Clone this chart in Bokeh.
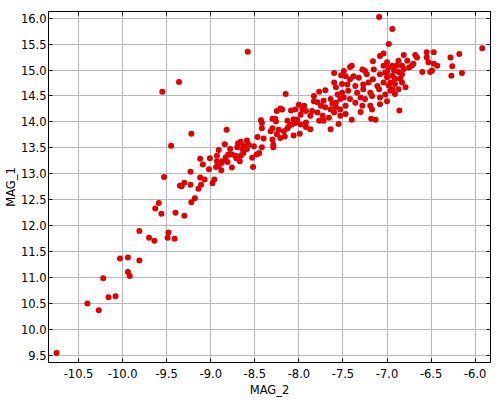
from bokeh.plotting import figure
from bokeh.models import LinearAxis, SingleIntervalTicker, NumeralTickFormatter, Range1d
from bokeh.embed import file_html
from bokeh.resources import INLINE

# MAG_2 (x) and MAG_1 (y) values
mag2_low = [-10.75, -10.40, -10.27, -10.16, -10.08, -10.22, -9.94, -9.92, -10.03, -9.94,
            -9.81, -9.81, -9.70, -9.64, -9.48, -9.49, -9.41]
mag1_low = [9.55, 10.50, 10.37, 10.62, 10.64, 10.99, 11.11, 11.03, 11.37, 11.39,
            11.33, 11.90, 11.77, 11.71, 11.87, 11.77, 11.75]

mag2_out = [-8.58, -9.55, -9.36, -7.09]
mag1_out = [15.35, 14.58, 14.77, 16.02]

mag2_a = [-9.22, -8.82, -9.45, -9.53, -8.59, -8.63, -8.66, -8.69, -8.70, -8.64, -8.59, -8.57,
          -8.66, -8.72, -8.71, -8.78, -8.76, -8.80, -8.83, -8.84, -8.91, -8.87, -8.81, -8.76,
          -8.93, -8.93, -8.91, -8.94, -8.88, -8.88, -9.01, -9.12, -9.09, -9.02, -9.23, -9.12,
          -9.07, -8.96, -8.98, -9.23, -9.30, -9.33, -9.35, -9.11, -9.14, -9.18, -9.22, -9.59,
          -9.63, -9.56, -9.40, -9.30, -8.63, -8.67]
mag1_a = [13.77, 13.85, 13.54, 12.94, 13.64, 13.54, 13.62, 13.59, 13.51, 13.48, 13.48, 13.56,
          13.35, 13.35, 13.30, 13.48, 13.37, 13.37, 13.32, 13.57, 13.46, 13.24, 13.23, 13.12,
          13.35, 13.24, 13.16, 13.13, 13.07, 13.21, 13.30, 13.29, 13.18, 13.09, 13.04, 12.93,
          12.89, 12.89, 12.82, 12.79, 12.83, 12.76, 12.77, 12.79, 12.71, 12.53, 12.45, 12.44,
          12.33, 12.23, 12.25, 12.19, 13.40, 13.24]

mag2_b = [-8.21, -8.27, -8.26, -8.09, -8.04, -8.00, -7.96, -7.98, -8.02, -8.08, -8.13, -8.17,
          -8.23, -8.30, -8.32, -8.25, -8.21, -8.16, -8.11, -8.04, -7.98, -7.99, -8.42, -8.42,
          -8.47, -8.40, -8.30, -8.29, -8.29, -8.42, -8.45, -8.48, -8.51, -8.53, -8.52, -8.15,
          -8.43, -8.30, -8.25, -8.19, -8.06, -8.13, -8.06]
mag1_b = [14.26, 14.06, 14.01, 14.22, 14.24, 14.33, 14.24, 14.14, 14.04, 13.95, 13.88, 13.82,
          13.85, 13.88, 13.82, 13.76, 13.69, 13.72, 13.92, 13.98, 13.95, 13.77, 13.98, 13.88,
          13.71, 13.68, 13.66, 13.56, 13.51, 13.51, 13.40, 13.37, 13.53, 13.31, 13.13, 14.54,
          14.03, 14.06, 14.21, 14.24, 14.05, 14.02, 13.74]

mag2_c = [-7.60, -7.52, -7.94, -7.92, -7.92, -7.87, -7.85, -7.83, -7.83, -7.77, -7.70, -7.60,
          -7.56, -7.51, -7.64, -7.58, -7.53, -7.75, -7.70, -7.64, -7.58, -7.53, -7.79, -7.73,
          -7.66, -7.60, -7.53, -7.77, -7.72, -7.87, -7.64, -7.55, -7.51, -7.58, -7.92, -7.79,
          -7.72, -7.62]
mag1_c = [14.94, 14.90, 14.31, 14.21, 13.99, 14.12, 14.21, 14.40, 14.50, 14.58, 14.61, 14.76,
          14.53, 14.56, 14.44, 14.37, 14.44, 14.31, 14.28, 14.24, 14.28, 14.24, 14.18, 14.12,
          14.08, 14.18, 14.12, 14.02, 14.02, 13.86, 13.86, 13.96, 14.73, 14.67, 13.90, 14.38,
          14.41, 14.35]

mag2_d = [-7.08, -7.16, -7.40, -7.42, -7.49, -7.28, -7.25, -7.15, -7.04, -7.47, -7.42, -7.38,
          -7.32, -7.23, -7.16, -7.08, -7.02, -7.45, -7.36, -7.27, -7.21, -7.11, -7.04, -7.44,
          -7.34, -7.27, -7.19, -7.09, -7.49, -7.42, -7.30, -7.25, -7.17, -7.08, -7.02, -7.47,
          -7.36, -7.28, -7.19, -7.08, -7.30, -7.17, -7.04, -7.47, -7.18, -7.40, -7.13, -7.00]
mag1_d = [15.27, 15.17, 15.08, 15.06, 14.98, 15.01, 14.98, 15.01, 15.08, 14.88, 14.82, 14.88,
          14.85, 14.92, 14.82, 14.92, 14.95, 14.72, 14.69, 14.72, 14.76, 14.69, 14.76, 14.60,
          14.56, 14.63, 14.56, 14.63, 14.47, 14.44, 14.47, 14.44, 14.50, 14.47, 14.53, 14.31,
          14.37, 14.31, 14.31, 14.34, 14.19, 14.24, 15.32, 14.15, 14.06, 14.04, 14.04, 14.40]

mag2_e = [-6.94, -6.98, -5.92, -6.28, -6.26, -6.27, -6.15, -6.18, -6.86, -6.81, -6.68, -6.66,
          -6.55, -6.47, -6.55, -6.53, -6.47, -6.43, -6.49, -6.51, -6.60, -6.70, -6.72, -6.75,
          -6.77, -6.87, -6.89, -7.00, -6.98, -6.94, -6.83, -6.81, -6.87, -6.83, -6.92, -6.94,
          -7.00, -7.00, -6.91, -6.85, -6.96, -6.91, -6.83, -6.79, -6.87, -6.94, -6.98, -6.96,
          -6.91]
mag1_e = [15.79, 15.50, 15.42, 15.24, 15.07, 14.89, 14.94, 15.31, 14.22, 15.29, 15.29, 15.24,
          15.34, 15.34, 15.24, 15.15, 15.12, 15.08, 14.99, 14.96, 14.96, 15.12, 15.08, 15.05,
          15.18, 15.18, 15.08, 15.15, 15.05, 15.08, 15.08, 15.02, 14.96, 14.92, 14.99, 14.89,
          14.96, 14.86, 14.83, 14.83, 14.76, 14.73, 14.76, 14.67, 14.63, 14.63, 14.70, 14.60,
          14.54]

mag2 = mag2_low + mag2_out + mag2_a + mag2_b + mag2_c + mag2_d + mag2_e
mag1 = mag1_low + mag1_out + mag1_a + mag1_b + mag1_c + mag1_d + mag1_e

FONT = "DejaVu Sans"

p = figure(width=500, height=400, output_backend="svg", toolbar_location=None,
           x_range=Range1d(-10.841, -5.826), y_range=Range1d(9.365, 16.127),
           min_border_left=48, min_border_right=10, min_border_top=11, min_border_bottom=38,
           x_axis_label="MAG_2", y_axis_label="MAG_1")
p.background_fill_color = "white"
p.border_fill_color = "white"
p.outline_line_color = "black"
p.outline_line_width = 1

xt = SingleIntervalTicker(interval=0.5, num_minor_ticks=0)
yt = SingleIntervalTicker(interval=0.5, num_minor_ticks=0)
p.xaxis.ticker = xt
p.yaxis.ticker = yt
p.xgrid.ticker = xt
p.ygrid.ticker = yt
for g in (p.xgrid, p.ygrid):
    g.grid_line_color = "#b8b8b8"
    g.grid_line_width = 1

fmt = NumeralTickFormatter(format="0.0")
for ax in (p.xaxis[0], p.yaxis[0]):
    ax.formatter = fmt
    ax.major_tick_in = 4
    ax.major_tick_out = 0
    ax.minor_tick_in = 0
    ax.minor_tick_out = 0
    ax.major_tick_line_color = "black"
    ax.axis_line_color = "black"
    ax.major_label_text_font = FONT
    ax.major_label_text_font_size = "11.5px"
    ax.major_label_text_color = "black"
    ax.axis_label_text_font = FONT
    ax.axis_label_text_font_size = "11.5px"
    ax.axis_label_text_font_style = "normal"
    ax.axis_label_text_color = "black"
p.xaxis.major_label_standoff = 6
p.xaxis.axis_label_standoff = 2
p.yaxis.major_label_standoff = 2
p.yaxis.axis_label_standoff = 0

top = LinearAxis(ticker=xt, major_tick_in=4, major_tick_out=0, minor_tick_in=0, minor_tick_out=0,
                 major_label_text_font_size="1px", major_label_text_color=None,
                 major_label_standoff=0, axis_line_color="black")
right = LinearAxis(ticker=yt, major_tick_in=4, major_tick_out=0, minor_tick_in=0, minor_tick_out=0,
                   major_label_text_font_size="1px", major_label_text_color=None,
                   major_label_standoff=0, axis_line_color="black")
p.add_layout(top, "above")
p.add_layout(right, "right")

p.scatter(mag2, mag1, size=6, fill_color="#e00000", line_color=None)

open("out.html", "w").write(file_html(p, INLINE))
